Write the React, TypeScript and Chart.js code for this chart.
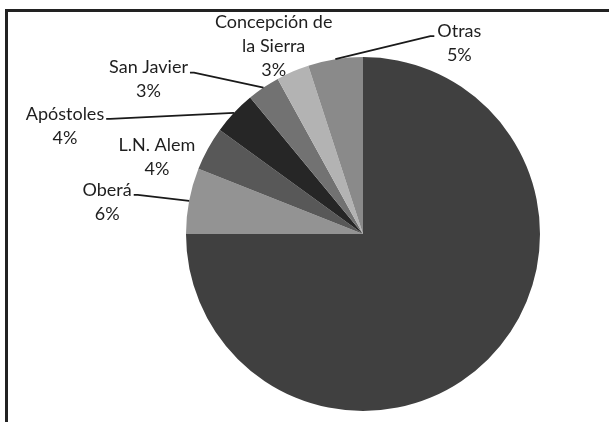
import React, { useEffect, useRef } from "react";
import { Chart, registerables } from "chart.js";

Chart.register(...registerables);

const categories = ["Posadas", "Oberá", "L.N. Alem", "Apóstoles", "San Javier", "Concepción de la Sierra", "Otras"];
const shares = [75, 6, 4, 4, 3, 3, 5];
const labelLines = [
  [],
  ["Oberá", "6%"],
  ["L.N. Alem", "4%"],
  ["Apóstoles", "4%"],
  ["San Javier", "3%"],
  ["Concepción de", "la Sierra", "3%"],
  ["Otras", "5%"],
];
const sliceColors = ["#404040", "#939393", "#585858", "#262626", "#727272", "#b3b3b3", "#8a8a8a"];

// label block centre offsets relative to each slice's outer-mid point, and whether a leader is drawn
const labelOffsets: [number, number, number][] = [
  [0, 0, 0],
  [-82, 1, 1],
  [-51, 8, 0],
  [-169, 13, 1],
  [-115, -8, 1],
  [-19, -25, 0],
  [124, -16, 1],
];

const FONT = "18px Lato";
const LINE_H = 24;

const labelPlugin = {
  id: "pieLabels",
  beforeDraw(chart: any) {
    const ctx = chart.ctx;
    ctx.save();
    ctx.strokeStyle = "#222";
    ctx.lineWidth = 3;
    ctx.beginPath();
    ctx.moveTo(6.5, chart.height + 10);
    ctx.lineTo(6.5, 10.5);
    ctx.lineTo(chart.width + 10, 10.5);
    ctx.stroke();
    ctx.restore();
  },
  afterDraw(chart: any) {
    const ctx = chart.ctx;
    const meta = chart.getDatasetMeta(0);
    ctx.save();
    ctx.font = FONT;
    ctx.fillStyle = "#1e1e1e";
    ctx.textAlign = "center";
    ctx.textBaseline = "middle";
    meta.data.forEach((arc: any, i: number) => {
      const lines = labelLines[i];
      if (!lines || lines.length === 0) return;
      const p = arc.getProps(["x", "y", "startAngle", "endAngle", "outerRadius"], true);
      const mid = (p.startAngle + p.endAngle) / 2;
      const ex = p.x + Math.cos(mid) * p.outerRadius;
      const ey = p.y + Math.sin(mid) * p.outerRadius;
      const [dx, dy, leader] = labelOffsets[i];
      const cx = ex + dx;
      const cy = ey + dy;
      const top = cy - ((lines.length - 1) * LINE_H) / 2;
      lines.forEach((t, k) => ctx.fillText(t, cx, top + k * LINE_H));
      if (leader) {
        const w = ctx.measureText(lines[0]).width;
        const ly = top + 5;
        ctx.strokeStyle = "#1a1a1a";
        ctx.lineWidth = 1.8;
        ctx.beginPath();
        if (ex > cx) {
          const sx = cx + w / 2 + 2;
          ctx.moveTo(sx, ly);
          ctx.lineTo(sx + 4, ly);
        } else {
          const sx = cx - w / 2 - 3;
          ctx.moveTo(sx, ly);
          ctx.lineTo(sx - 4, ly);
        }
        ctx.lineTo(ex, ey);
        ctx.stroke();
      }
    });
    ctx.restore();
  },
};

export default function App() {
  const ref = useRef<HTMLCanvasElement | null>(null);
  useEffect(() => {
    if (!ref.current) return;
    const chart = new Chart(ref.current, {
      type: "pie",
      data: {
        labels: categories,
        datasets: [
          {
            data: shares,
            backgroundColor: sliceColors,
            borderWidth: 0,
          },
        ],
      },
      options: {
        responsive: false,
        animation: false,
        layout: { padding: { left: 186, right: 69, top: 57, bottom: 11 } },
        plugins: {
          legend: { display: false },
          tooltip: { enabled: false },
        },
      },
      plugins: [labelPlugin],
    });
    return () => chart.destroy();
  }, []);
  return (
    <div style={{ position: "fixed", left: 0, top: 0, width: 609, height: 422, background: "#fff" }}>
      <canvas ref={ref} width={609} height={422} style={{ display: "block" }} />
    </div>
  );
}
